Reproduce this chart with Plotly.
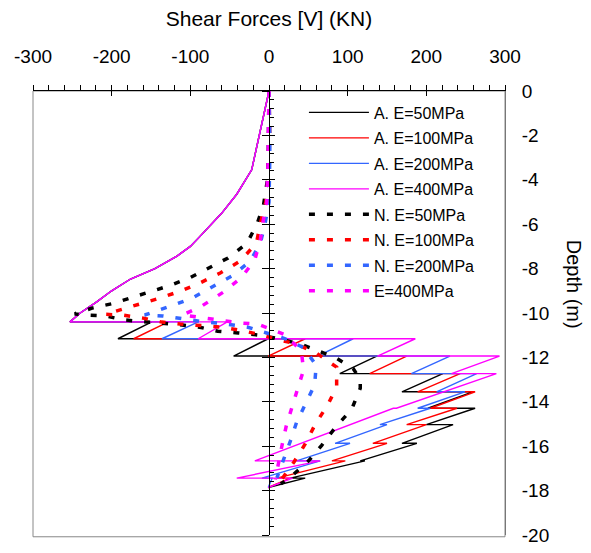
import plotly.graph_objects as go

# ---------------- data ----------------
# shared upper part of the analytical (A.) curves: (shear kN, depth m)
shared_v = [0, -5, -11, -22, -41, -60, -88, -100, -117, -145, -176, -200, -219, -240, -253]
shared_d = [0, -0.8, -1.7, -3.55, -4.65, -5.5, -6.56, -7.0, -7.44, -8.0, -8.47, -9.0, -9.5, -10.0, -10.40]

a50_v = [-253, -149, -192, -1, -45, 137, 90, 221, 169, 259, 202, 262, 200, 234, 169, 188, 116, 122, 27, 46, -1]
a50_d = [-10.40, -10.40, -11.16, -11.16, -11.94, -11.94, -12.73, -12.73, -13.55, -13.55, -14.29, -14.29,
         -15.03, -15.03, -15.87, -15.87, -16.66, -16.66, -17.44, -17.44, -17.86]
a100_v = [-253, -128, -172, 46, -1, 175, 128, 243, 189, 262, 205, 239, 175, 200, 132, 150, 80, 97, 10, 27, -1]
a100_d = [-10.40, -10.40, -11.16, -11.16, -11.94, -11.94, -12.73, -12.73, -13.55, -13.55, -14.29, -14.29,
          -15.03, -15.03, -15.87, -15.87, -16.66, -16.66, -17.44, -17.44, -17.86]
a200_v = [-253, -90, -136, 107, 62, 230, 181, 264, 213, 249, 189, 205, 141, 150, 84, 103, 35, 65, -9, 4, -1]
a200_d = [-10.40, -10.40, -11.16, -11.16, -11.94, -11.94, -12.73, -12.73, -13.55, -13.55, -14.29, -14.29,
          -15.03, -15.03, -15.87, -15.87, -16.66, -16.66, -17.44, -17.44, -17.86]
a400_v = [-253, -53, -90, 186, 138, 293, 232, 289, 162, 158, -18, 65, -41, 30, -1]
a400_d = [-10.40, -10.40, -11.16, -11.16, -11.94, -11.94, -12.73, -12.73, -14.29, -14.29,
          -16.66, -16.66, -17.44, -17.44, -17.86]

n50_v = [0, 0, -1, -1, -2, -7, -15, -28, -52, -75, -100, -124, -147, -173, -198, -224, -247, -234, -208, -185, -162, -136, -113, -88, -65, -39, -11, 11, 40, 60, 84, 107, 116, 116, 105, 86, 67, 50, 27, 15]
n50_d = [0, -1, -2, -3, -4, -5.15, -5.97, -6.86, -7.52, -7.96, -8.4, -8.74, -9.0, -9.28, -9.57, -9.77, -10.04, -10.09, -10.13, -10.31, -10.38, -10.45, -10.53, -10.64, -10.82, -10.9, -11.0, -11.15, -11.4, -11.67, -12.0, -12.5, -13.0, -13.39, -14.35, -15.08, -15.96, -16.67, -17.4, -17.7]
n100_v = [0, 1, 1, 0, -1, -4, -11, -16, -37, -62, -88, -111, -136, -162, -185, -208, -185, -160, -136, -113, -85, -60, -35, -11, 11, 35, 60, 86, 86, 75, 59, 46, 32, 14]
n100_d = [0, -1, -2, -3, -4, -5.0, -5.97, -6.86, -7.67, -8.2, -8.65, -8.99, -9.3, -9.57, -9.8, -10.06, -10.1, -10.23, -10.41, -10.5, -10.57, -10.64, -10.79, -10.97, -11.19, -11.4, -11.8, -12.44, -13.32, -14.12, -15.0, -15.9, -16.7, -17.6]
n200_v = [0, 1, 1, 1, 1, 0, -5, -11, -24, -47, -73, -97, -122, -147, -158, -135, -111, -86, -60, -28, -3, 20, 44, 60, 58, 46, 35, 27, 18, 10]
n200_d = [0, -1, -2, -3, -4, -5.0, -5.97, -6.86, -7.67, -8.33, -8.84, -9.32, -9.65, -9.94, -10.09, -10.13, -10.26, -10.38, -10.47, -10.63, -10.9, -11.15, -11.56, -12.36, -13.24, -14.08, -14.93, -15.78, -16.62, -17.43]
n400_v = [0, -1, -1, -1, -2, -3, -8, -11, -18, -35, -58, -86, -110, -86, -62, -37, -14, -3, 20, 41, 44, 37, 29, 22, 17, 12, 8]
n400_d = [0, -1, -2, -3, -4, -5.0, -5.97, -6.7, -7.6, -8.4, -9.06, -9.7, -10.09, -10.2, -10.31, -10.45, -10.5, -10.64, -10.97, -11.7, -12.56, -13.35, -14.27, -15.08, -15.88, -16.7, -17.5]

names = ["A. E=50MPa", "A. E=100MPa", "A. E=200MPa", "A. E=400MPa",
         "N. E=50MPa", "N. E=100MPa", "N. E=200MPa", "E=400MPa"]
colors = ["#000000", "#FF0000", "#3366FF", "#FF00FF"]

x_ticks = [-300, -200, -100, 0, 100, 200, 300]
y_ticks = [0, -2, -4, -6, -8, -10, -12, -14, -16, -18, -20]

FONT = "Liberation Sans, Arial, sans-serif"

fig = go.Figure()
solid = [(a50_v, a50_d), (a100_v, a100_d), (a200_v, a200_d), (a400_v, a400_d)]
for i, (v, d) in enumerate(solid):
    fig.add_trace(go.Scatter(x=shared_v + v[1:], y=shared_d + d[1:], mode="lines", name=names[i],
                             legendgroup=names[i],
                             line=dict(color=colors[i], width=1.4)))
dashed = [(n50_v, n50_d), (n100_v, n100_d), (n200_v, n200_d), (n400_v, n400_d)]
for i, (v, d) in enumerate(dashed):
    fig.add_trace(go.Scatter(x=v, y=d, mode="lines", name=names[4 + i], legendgroup=names[4 + i],
                             line=dict(color=colors[i], width=3.5, dash="6px,12px")))

fig.update_layout(
    width=591, height=553,
    margin=dict(l=33, r=86, t=91, b=7),
    paper_bgcolor="white", plot_bgcolor="white",
    font=dict(family=FONT, size=19, color="black"),
    showlegend=True,
    legend=dict(x=0.574, y=0.99, xanchor="left", yanchor="top",
                bgcolor="rgba(0,0,0,0)", borderwidth=0,
                font=dict(family=FONT, size=16), itemwidth=60, tracegroupgap=1.7),
    xaxis=dict(range=[-300, 300], side="top", tickvals=x_ticks, ticktext=[str(t) for t in x_ticks],
               showgrid=False, zeroline=False, showline=True, linecolor="black", linewidth=1,
               ticks="outside", ticklen=5, tickcolor="black", ticklabelstandoff=14,
               minor=dict(dtick=20, ticks="outside", ticklen=5, tickcolor="black"),
               tickfont=dict(size=19), title=dict(text="Shear Forces [V] (KN)", font=dict(size=21), standoff=14)),
    xaxis2=dict(range=[-300, 300], overlaying="x", side="top", anchor="y", showgrid=False, zeroline=False,
                showline=False, showticklabels=False, ticks="inside", ticklen=5, tickcolor="black",
                tickvals=x_ticks),
    yaxis=dict(range=[-20, 0], side="right", tickvals=y_ticks, ticktext=[str(t) for t in y_ticks],
               showgrid=False, zeroline=False, showline=True, linecolor="#777777", linewidth=1,
               ticks="", tickfont=dict(size=19), ticklabelstandoff=12, ticklabeloverflow="allow"),
    yaxis2=dict(range=[-20, 0], overlaying="y", anchor="free", position=0.5, side="left",
                showgrid=False, zeroline=False, showline=True, linecolor="black", linewidth=1,
                showticklabels=False, ticks="inside", ticklen=5, tickcolor="black", dtick=2,
                minor=dict(dtick=0.4, ticks="inside", ticklen=4, tickcolor="black")),
    yaxis3=dict(range=[-20, 0], overlaying="y", anchor="free", position=0.5, side="left",
                showgrid=False, zeroline=False, showline=False,
                showticklabels=False, ticks="outside", ticklen=7, tickcolor="black", dtick=2),
)
# dummy traces to activate the overlaid axes
fig.add_trace(go.Scatter(x=[None], y=[None], yaxis="y2", showlegend=False, hoverinfo="skip"))
fig.add_trace(go.Scatter(x=[None], y=[None], yaxis="y3", showlegend=False, hoverinfo="skip"))
fig.add_trace(go.Scatter(x=[None], y=[None], xaxis="x2", showlegend=False, hoverinfo="skip"))

# frame (left / bottom grey lines)
fig.add_shape(type="rect", xref="paper", yref="paper", x0=0, x1=1, y0=-0.004, y1=1,
              line=dict(color="#888888", width=1), layer="below")
fig.add_annotation(text="Depth (m)", xref="paper", yref="paper", x=1.148, y=0.564,
                   xanchor="center", yanchor="middle",
                   showarrow=False, textangle=90, font=dict(family=FONT, size=20))

fig.write_html("out.html")
